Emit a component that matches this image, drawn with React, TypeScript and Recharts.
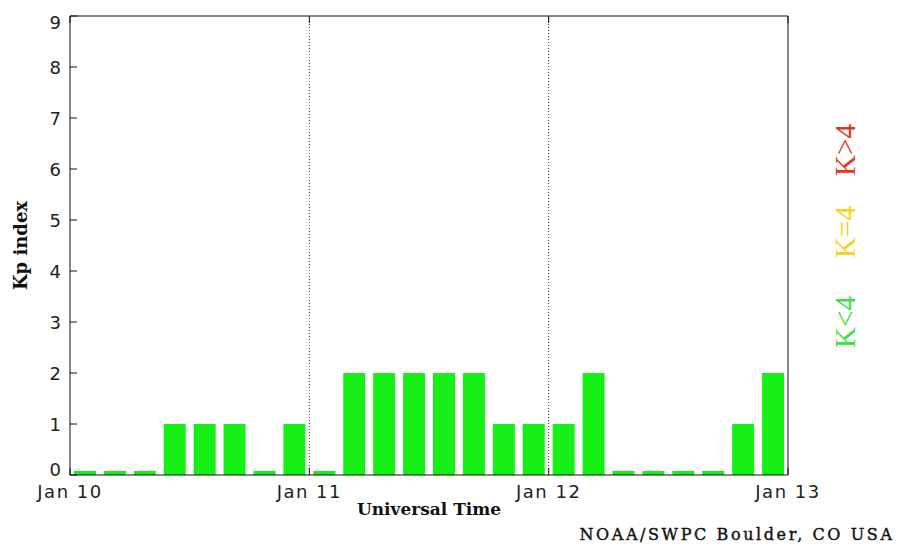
import {
  ComposedChart,
  Bar,
  XAxis,
  YAxis,
  ReferenceLine,
  Label,
} from 'recharts'

// 3-hourly Kp values, 8 per day, Jan 10 - Jan 12
const slots = Array.from({ length: 24 }, (_, i) => i)
const kpValues = [0, 0, 0, 1, 1, 1, 0, 1, 0, 2, 2, 2, 2, 2, 1, 1, 1, 2, 0, 0, 0, 0, 1, 2]
const dayTicks = [0, 8, 16, 24]
const dayLabels = ['Jan 10', 'Jan 11', 'Jan 12', 'Jan 13']
const kpTicks = [0, 1, 2, 3, 4, 5, 6, 7, 8, 9]
const legendItems = [
  { text: 'K>4', color: '#e2361a', y: 150 },
  { text: 'K=4', color: '#f4d21a', y: 232 },
  { text: 'K<4', color: '#3fe03a', y: 322 },
]

const data = slots.map((s, i) => ({ slot: s, pos: s + 0.5, kp: kpValues[i] }))

const tickFont = { fontFamily: 'DejaVu Sans', fontSize: 18, fill: '#222', letterSpacing: 1.5 }
const serifBold = { fontFamily: 'DejaVu Serif', fontWeight: 'bold' as const, fill: '#111' }

// end labels sit inside the frame, like the original plot
function KpTick({ x, y, payload }: any) {
  const v = payload.value
  const shift = v === 0 ? -6 : v === 9 ? 6 : 0
  return (
    <text
      x={x}
      y={y + shift}
      textAnchor="end"
      dominantBaseline="central"
      style={{ fontFamily: 'DejaVu Sans', fontSize: 18, fill: '#222' }}
    >
      {v}
    </text>
  )
}

export default function App() {
  return (
    <div style={{ position: 'absolute', left: 0, top: 0, width: 905, height: 546, background: '#fff' }}>
      <ComposedChart
        width={905}
        height={546}
        data={data}
        margin={{ top: 15, right: 116, left: 0, bottom: 0 }}
        barCategoryGap={0}
      >
        <XAxis xAxisId="cat" dataKey="slot" type="category" hide height={0} />
        <XAxis
          xAxisId="time"
          dataKey="pos"
          type="number"
          domain={[0, 24]}
          ticks={dayTicks}
          allowDataOverflow
          height={71}
          stroke="#111"
          tickSize={-7}
          tickMargin={17}
          tick={tickFont}
          tickFormatter={(v: number) => dayLabels[dayTicks.indexOf(v)]}
        >
          <Label
            value="Universal Time"
            position="insideTop"
            offset={28}
            style={{ ...serifBold, fontSize: 17 }}
          />
        </XAxis>
        <XAxis
          xAxisId="top"
          orientation="top"
          dataKey="pos"
          type="number"
          domain={[0, 24]}
          ticks={dayTicks}
          allowDataOverflow
          height={1}
          stroke="#111"
          tickSize={-7}
          tickFormatter={() => ''}
        />
        <YAxis
          yAxisId="kp"
          domain={[0, 9]}
          ticks={kpTicks}
          width={70}
          stroke="#111"
          tickSize={-7}
          tickMargin={16}
          tick={<KpTick />}
        >
          <Label
            content={({ viewBox }: any) => (
              <text
                x={20}
                y={viewBox.y + viewBox.height / 2}
                transform={`rotate(-90 20 ${viewBox.y + viewBox.height / 2})`}
                textAnchor="middle"
                dominantBaseline="central"
                style={{ ...serifBold, fontSize: 18 }}
              >
                Kp index
              </text>
            )}
          />
        </YAxis>
        <YAxis
          yAxisId="right"
          orientation="right"
          domain={[0, 9]}
          ticks={kpTicks}
          width={1}
          stroke="#111"
          tickSize={-7}
          tickFormatter={() => ''}
        />
        <ReferenceLine xAxisId="time" yAxisId="kp" x={8} stroke="#333" strokeDasharray="1 2" />
        <ReferenceLine xAxisId="time" yAxisId="kp" x={16} stroke="#333" strokeDasharray="1 2" />
        <Bar
          xAxisId="cat"
          yAxisId="kp"
          dataKey="kp"
          fill="#16f016"
          barSize={22}
          minPointSize={4}
          isAnimationActive={false}
        />
      </ComposedChart>
      <svg width={905} height={546} style={{ position: 'absolute', left: 0, top: 0, pointerEvents: 'none' }}>
        {legendItems.map(it => (
          <text
            key={it.text}
            x={845}
            y={it.y}
            transform={`rotate(-90 845 ${it.y})`}
            textAnchor="middle"
            dominantBaseline="central"
            style={{ fontFamily: 'Liberation Serif', fontSize: 29, fill: it.color }}
          >
            {it.text}
          </text>
        ))}
        <text x={737} y={540} textAnchor="middle" style={{ ...serifBold, fontWeight: 'normal', fontSize: 16, letterSpacing: 2.6, stroke: '#111', strokeWidth: 0.4 }}>
          NOAA/SWPC Boulder, CO USA
        </text>
      </svg>
    </div>
  )
}
